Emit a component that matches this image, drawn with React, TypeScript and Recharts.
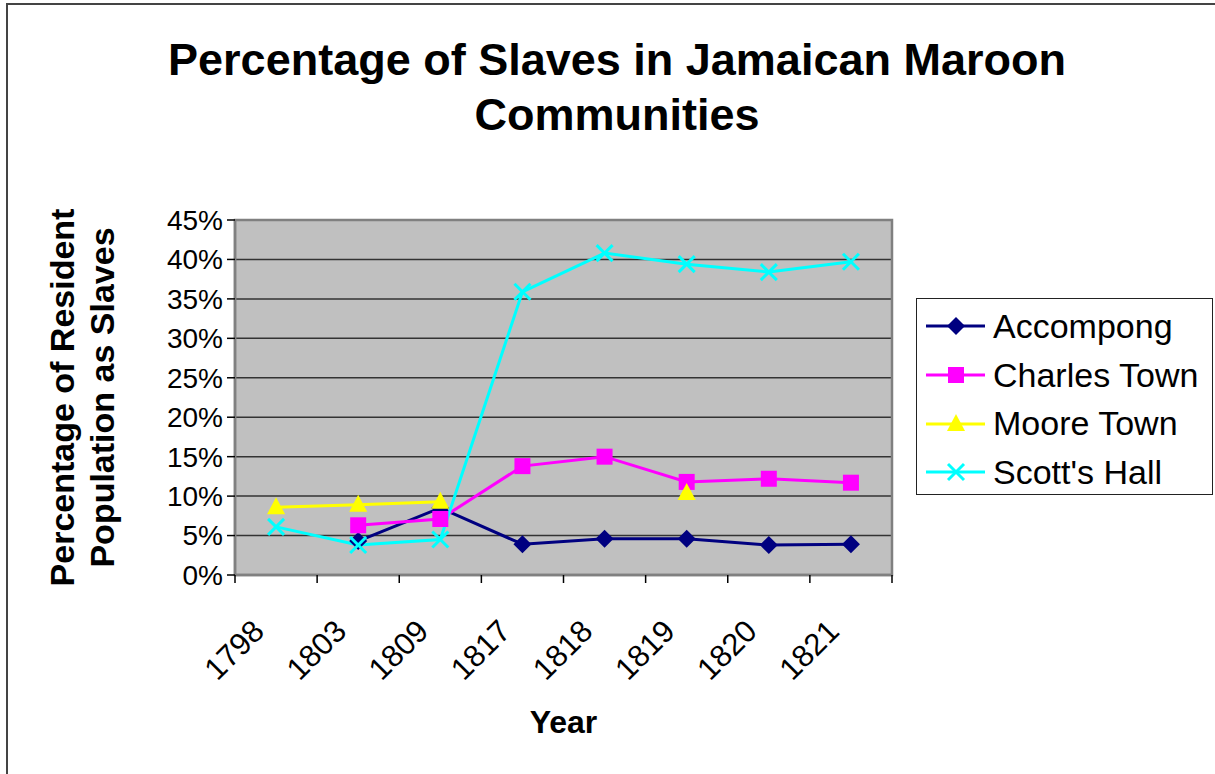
import React from "react";
import {
  LineChart,
  Line,
  XAxis,
  YAxis,
  CartesianGrid,
  ReferenceArea,
  Label,
} from "recharts";

// Categories and values (fractions)
const YEARS = ["1798", "1803", "1809", "1817", "1818", "1819", "1820", "1821"];
const ACCOMPONG = [null, 0.043, 0.085, 0.039, 0.046, 0.046, 0.038, 0.039];
const CHARLES_TOWN = [null, 0.063, 0.071, 0.138, 0.15, 0.118, 0.122, 0.117];
const MOORE_TOWN = [0.086, 0.089, 0.093, null, null, 0.104, null, null];
const SCOTTS_HALL = [0.061, 0.038, 0.045, 0.359, 0.408, 0.394, 0.384, 0.397];
const Y_TICKS = [0, 0.05, 0.1, 0.15, 0.2, 0.25, 0.3, 0.35, 0.4, 0.45];

const FONT = "'Liberation Sans', Arial, sans-serif";

type Marker = "diamond" | "square" | "triangle" | "cross";

const SERIES: { key: string; name: string; color: string; marker: Marker }[] = [
  { key: "accompong", name: "Accompong", color: "#000080", marker: "diamond" },
  { key: "charles", name: "Charles Town", color: "#FF00FF", marker: "square" },
  { key: "moore", name: "Moore Town", color: "#FFFF00", marker: "triangle" },
  { key: "scott", name: "Scott's Hall", color: "#00FFFF", marker: "cross" },
];

const data = YEARS.map((year, i) => ({
  year,
  accompong: ACCOMPONG[i],
  charles: CHARLES_TOWN[i],
  moore: MOORE_TOWN[i],
  scott: SCOTTS_HALL[i],
}));

const drawMarker = (marker: Marker, cx: number, cy: number, color: string, key?: string) => {
  switch (marker) {
    case "diamond":
      return (
        <polygon
          key={key}
          points={`${cx},${cy - 9} ${cx + 9},${cy} ${cx},${cy + 9} ${cx - 9},${cy}`}
          fill={color}
        />
      );
    case "square":
      return <rect key={key} x={cx - 8} y={cy - 8} width={16} height={16} fill={color} />;
    case "triangle":
      return (
        <polygon
          key={key}
          points={`${cx},${cy - 10} ${cx + 9},${cy + 7} ${cx - 9},${cy + 7}`}
          fill={color}
        />
      );
    default:
      return (
        <g key={key} stroke={color} strokeWidth={3}>
          <line x1={cx - 8} y1={cy - 8} x2={cx + 8} y2={cy + 8} />
          <line x1={cx - 8} y1={cy + 8} x2={cx + 8} y2={cy - 8} />
        </g>
      );
  }
};

const makeDot = (marker: Marker, color: string) => (props: any) => {
  const { cx, cy, index, value } = props;
  const key = `dot-${marker}-${index}`;
  if (value == null || cx == null || cy == null) return <g key={key} />;
  return drawMarker(marker, cx, cy, color, key);
};

const XTick = (props: any) => {
  const { x, y, payload, index } = props;
  const off = payload.offset || 0;
  return (
    <g>
      <line x1={x - off} y1={y} x2={x - off} y2={y + 8} stroke="#000" strokeWidth={1.5} />
      {index === YEARS.length - 1 && (
        <line x1={x + off} y1={y} x2={x + off} y2={y + 8} stroke="#000" strokeWidth={1.5} />
      )}
      <text
        transform={`translate(${x - 10},${y + 58}) rotate(-45)`}
        textAnchor="end"
        fontFamily={FONT}
        fontSize={31}
        fill="#000"
      >
        {payload.value}
      </text>
    </g>
  );
};

const YTitle = (props: any) => {
  const cy = props.viewBox.y + props.viewBox.height / 2;
  return (
    <g fontFamily={FONT} fontSize={34} fontWeight="bold" fill="#000" textAnchor="middle">
      <text transform={`translate(74,${cy}) rotate(-90)`}>Percentage of Resident</text>
      <text transform={`translate(114,${cy}) rotate(-90)`}>Population as Slaves</text>
    </g>
  );
};

const XTitle = (props: any) => {
  const { x, y, width } = props.viewBox;
  return (
    <text
      x={x + width / 2}
      y={y + 158}
      textAnchor="middle"
      fontFamily={FONT}
      fontSize={32}
      fontWeight="bold"
      fill="#000"
    >
      Year
    </text>
  );
};

const App = () => {
  return (
    <div
      style={{
        position: "absolute",
        left: 0,
        top: 0,
        width: 1215,
        height: 774,
        background: "#fff",
        overflow: "hidden",
      }}
    >
      {/* outer frame */}
      <div
        style={{
          position: "absolute",
          left: 6,
          top: 3,
          width: 1300,
          height: 900,
          borderTop: "2px solid #444",
          borderLeft: "2px solid #444",
        }}
      />
      <div
        style={{
          position: "absolute",
          left: 0,
          top: 32,
          width: 1234,
          textAlign: "center",
          fontFamily: FONT,
          fontWeight: "bold",
          fontSize: 45,
          lineHeight: "55px",
          color: "#000",
        }}
      >
        Percentage of Slaves in Jamaican Maroon
        <br />
        Communities
      </div>

      <div style={{ position: "absolute", left: 0, top: 0 }}>
        <LineChart
          width={1215}
          height={774}
          data={data}
          margin={{ top: 220, right: 323, bottom: 19, left: 135 }}
        >
          <CartesianGrid
            vertical={false}
            fill="#C0C0C0"
            fillOpacity={1}
            stroke="#333"
            strokeWidth={1.5}
          />
          <ReferenceArea y1={0} y2={0.45} fill="none" stroke="#808080" strokeWidth={2.5} />
          <XAxis
            dataKey="year"
            scale="band"
            height={180}
            tickLine={false}
            tickSize={0}
            tickMargin={0}
            axisLine={{ stroke: "#808080", strokeWidth: 2.5 }}
            tick={<XTick />}
            interval={0}
          >
            <Label content={<XTitle />} />
          </XAxis>
          <YAxis
            width={100}
            domain={[0, 0.45]}
            ticks={Y_TICKS}
            tickFormatter={(v: number) => `${Math.round(v * 100)}%`}
            tickSize={8}
            tickMargin={4}
            tickLine={{ stroke: "#000", strokeWidth: 1.5 }}
            axisLine={{ stroke: "#808080", strokeWidth: 2.5 }}
            tick={{ fontFamily: FONT, fontSize: 28, fill: "#000" }}
          >
            <Label content={<YTitle />} />
          </YAxis>
          {SERIES.map((s) => (
            <Line
              key={s.key}
              dataKey={s.key}
              name={s.name}
              type="linear"
              stroke={s.color}
              strokeWidth={3}
              dot={makeDot(s.marker, s.color)}
              activeDot={false}
              isAnimationActive={false}
            />
          ))}
        </LineChart>
      </div>

      {/* legend */}
      <div
        style={{
          position: "absolute",
          left: 916,
          top: 298,
          width: 297,
          height: 197,
          border: "1.5px solid #222",
          boxSizing: "border-box",
          fontFamily: FONT,
          fontSize: 34,
          color: "#000",
          paddingTop: 3,
        }}
      >
        {SERIES.map((s) => (
          <div
            key={s.key}
            style={{ display: "flex", alignItems: "center", height: 48.7, whiteSpace: "nowrap" }}
          >
            <svg width={76} height={30} style={{ flexShrink: 0 }}>
              <line x1={9} y1={15} x2={68} y2={15} stroke={s.color} strokeWidth={3} />
              {drawMarker(s.marker, 39, 15, s.color)}
            </svg>
            <span>{s.name}</span>
          </div>
        ))}
      </div>
    </div>
  );
};

export default App;
